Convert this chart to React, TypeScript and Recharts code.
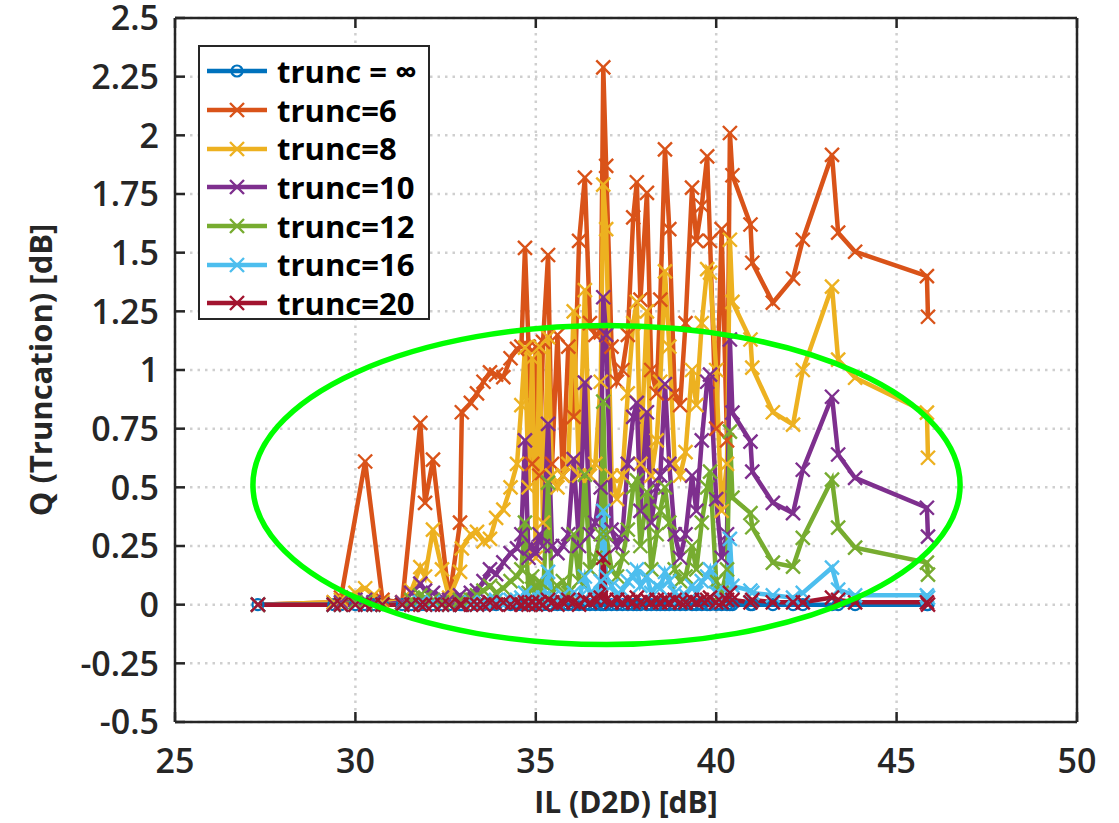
import React from 'react';
import {
  LineChart, Line, XAxis, YAxis, CartesianGrid, ReferenceArea, Legend,
} from 'recharts';

// IL (D2D) [dB] sample positions, shared by all series
const il = [
  27.3, 29.4, 29.6, 30.0, 30.27, 30.5, 30.75, 31.3, 31.55, 31.8,
  31.93, 32.15, 32.4, 32.6, 32.9, 32.95, 33.2, 33.37, 33.55, 33.73,
  33.9, 34.1, 34.3, 34.48, 34.6, 34.7, 34.8, 34.9, 35.0, 35.1,
  35.2, 35.34, 35.45, 35.6, 35.75, 35.9, 36.05, 36.2, 36.36, 36.5,
  36.65, 36.8, 36.87, 36.95, 37.1, 37.25, 37.4, 37.55, 37.7, 37.8,
  37.9, 38.08, 38.2, 38.35, 38.45, 38.58, 38.7, 38.85, 39.0, 39.15,
  39.33, 39.45, 39.6, 39.75, 39.83, 40.0, 40.15, 40.3, 40.38, 40.45,
  40.95, 41.0, 41.57, 42.13, 42.4, 43.21, 43.38, 43.85, 45.84, 45.87,
];

const truncInf = il.map(() => 0);

const trunc6 = [
  0, 0.01, 0.03, null, 0.61, null, 0.02, 0.01, null, 0.775,
  0.434, 0.618, null, 0.02, 0.35, 0.82, 0.86, 0.9, 0.95, 0.99,
  0.98, 0.97, 1.05, 1.09, 1.1, 1.52, 1.1, 0.6, 1.1, 0.55,
  1.12, 1.49, 0.6, 1.15, 0.55, 1.1, 0.8, 1.55, 1.82, 1.2,
  1.15, 1.16, 2.29, 1.87, 1.1, 0.95, 1.0, 1.15, 1.65, 1.8,
  1.3, 1.755, 1.0, 0.9, 1.3, 1.94, 1.6, 0.9, 0.85, 1.2,
  1.777, 1.55, 1.7, 1.91, 1.55, 0.75, 1.6, 0.7, 2.01, 1.83,
  1.62, 1.457, 1.287, 1.39, 1.555, 1.917, 1.585, 1.504, 1.4, 1.227,
];

const trunc8 = [
  0, 0.01, 0.02, 0.05, 0.07, 0.04, 0.01, 0.01, 0.06, 0.16,
  0.12, 0.32, 0.15, 0.03, 0.14, 0.24, 0.3, 0.31, 0.27, 0.28,
  0.37, 0.405, 0.5, 0.6, 0.85, 1.095, 0.5, 1.05, 0.2, 1.1,
  0.35, 1.14, 0.55, 0.5, 0.55, 0.6, 1.25, 0.55, 1.34, 0.55,
  0.6, 0.95, 1.79, 1.6, 0.55, 0.45, 0.55, 0.9, 1.2, 1.29,
  0.6, 1.25, 0.55, 0.7, 0.95, 1.42, 1.1, 0.6, 0.55, 0.65,
  1.0, 0.85, 1.2, 1.43, 1.415, 1.0, 0.4, 0.6, 1.555, 1.29,
  1.13, 1.01, 0.82, 0.767, 1.0, 1.355, 1.044, 0.967, 0.818, 0.626,
];

const trunc10 = [
  0, 0, 0.01, 0.02, 0.02, 0.01, 0, 0.01, 0.05, 0.09,
  0.06, 0.05, 0.03, 0.02, 0.04, 0.02, 0.05, 0.06, 0.1, 0.15,
  0.13, 0.18, 0.22, 0.24, 0.3, 0.7, 0.2, 0.25, 0.22, 0.3,
  0.25, 0.77, 0.25, 0.22, 0.25, 0.3, 0.62, 0.25, 0.946, 0.3,
  0.35, 0.5, 1.31, 1.15, 0.32, 0.25, 0.3, 0.6, 0.8, 0.86,
  0.4, 0.82, 0.35, 0.5, 0.55, 0.94, 0.6, 0.3, 0.2, 0.3,
  0.55, 0.4, 0.7, 0.95, 0.98, 0.45, 0.2, 0.3, 1.13, 0.818,
  0.695, 0.567, 0.434, 0.39, 0.575, 0.886, 0.64, 0.54, 0.413, 0.29,
];

const trunc12 = [
  0, 0, 0, 0.01, 0.01, 0, 0, 0, 0.02, 0.04,
  0.03, 0.02, 0.01, 0, 0.02, 0.01, 0.02, 0.04, 0.06, 0.08,
  0.05, 0.07, 0.1, 0.12, 0.15, 0.35, 0.05, 0.12, 0.04, 0.1,
  0.03, 0.52, 0.05, 0.08, 0.1, 0.05, 0.3, 0.1, 0.554, 0.15,
  0.2, 0.3, 0.865, 0.3, 0.15, 0.12, 0.2, 0.32, 0.5, 0.53,
  0.25, 0.48, 0.15, 0.3, 0.4, 0.5, 0.35, 0.15, 0.1, 0.12,
  0.25, 0.15, 0.35, 0.5, 0.567, 0.1, 0.05, 0.15, 0.737, 0.456,
  0.39, 0.33, 0.179, 0.162, 0.285, 0.533, 0.328, 0.243, 0.179, 0.128,
];

const trunc16 = [
  0, 0, 0, 0, 0, 0, 0, 0, 0, 0.01,
  0, 0.01, 0, 0, 0, 0, 0.01, 0, 0.01, 0.01,
  0.02, 0.01, 0.02, 0.02, 0.03, 0.05, 0.02, 0.03, 0.01, 0.02,
  0.03, 0.14, 0.03, 0.02, 0.04, 0.02, 0.05, 0.03, 0.12, 0.05,
  0.04, 0.1, 0.4, 0.12, 0.08, 0.04, 0.06, 0.1, 0.12, 0.15,
  0.08, 0.12, 0.05, 0.08, 0.07, 0.14, 0.1, 0.05, 0.03, 0.04,
  0.08, 0.05, 0.1, 0.12, 0.15, 0.05, 0.02, 0.05, 0.28, 0.08,
  0.06, 0.05, 0.04, 0.03, 0.05, 0.158, 0.064, 0.04, 0.04, 0.03,
];

const trunc20 = [
  0, 0, 0, 0, 0, 0, 0, 0, 0, 0,
  0, 0, 0, 0, 0, 0, 0, 0, 0, 0.01,
  0, 0.01, 0, 0.01, 0, 0.01, 0, 0.01, 0, 0.01,
  0, 0.02, 0.01, 0, 0.01, 0.02, 0.01, 0, 0.02, 0.01,
  0.02, 0.03, 0.2, 0.02, 0.01, 0.02, 0.01, 0.02, 0.01, 0.03,
  0.01, 0.02, 0.01, 0.02, 0.01, 0.02, 0.01, 0.02, 0.01, 0.01,
  0.02, 0.01, 0.02, 0.02, 0.03, 0.01, 0.01, 0.02, 0.05, 0.02,
  0.01, 0.02, 0.01, 0.01, 0.01, 0.03, 0.02, 0.01, 0.01, 0,
];

const xTicks = [25, 30, 35, 40, 45, 50];
const yTicks = [-0.5, -0.25, 0, 0.25, 0.5, 0.75, 1, 1.25, 1.5, 1.75, 2, 2.25, 2.5];

// highlighted region (data units)
const ellipseX = [27.16, 46.76];
const ellipseY = [-0.17, 1.19];

const series = [
  { key: 'tInf', name: 'trunc = \u221e', color: '#0072BD', marker: 'o', values: truncInf },
  { key: 't6', name: 'trunc=6', color: '#D95319', marker: 'x', values: trunc6 },
  { key: 't8', name: 'trunc=8', color: '#EDB120', marker: 'x', values: trunc8 },
  { key: 't10', name: 'trunc=10', color: '#7E2F8E', marker: 'x', values: trunc10 },
  { key: 't12', name: 'trunc=12', color: '#77AC30', marker: 'x', values: trunc12 },
  { key: 't16', name: 'trunc=16', color: '#4DBEEE', marker: 'x', values: trunc16 },
  { key: 't20', name: 'trunc=20', color: '#A2142F', marker: 'x', values: trunc20 },
];

const data = il.map((x, i) => {
  const row: Record<string, number | null> = { il: x };
  series.forEach((s) => { row[s.key] = s.values[i]; });
  return row;
});

const AXIS = '#262626';
const FONT = '"Open Sans", "DejaVu Sans", sans-serif';

function Marker({ cx, cy, color, kind }: any) {
  if (cx == null || cy == null || Number.isNaN(cy)) return <g />;
  if (kind === 'o') {
    return <circle cx={cx} cy={cy} r={5.5} fill="none" stroke={color} strokeWidth={2.2} />;
  }
  const s = 7;
  return (
    <path
      d={`M${cx - s},${cy - s}L${cx + s},${cy + s}M${cx - s},${cy + s}L${cx + s},${cy - s}`}
      stroke={color}
      strokeWidth={2.4}
      fill="none"
    />
  );
}

const tickText = { fill: AXIS, fontSize: 34, fontWeight: 600, fontFamily: FONT };

function LeftTick({ x, y, payload }: any) {
  return (
    <g>
      <line x1={x} x2={x + 10} y1={y} y2={y} stroke={AXIS} strokeWidth={2.5} />
      <text x={x - 16} y={y} dy="0.36em" textAnchor="end" {...tickText}>{String(payload.value)}</text>
    </g>
  );
}

function RightTick({ x, y }: any) {
  return <line x1={x} x2={x - 10} y1={y} y2={y} stroke={AXIS} strokeWidth={2.5} />;
}

function BottomTick({ x, y, payload }: any) {
  return (
    <g>
      <line x1={x} x2={x} y1={y} y2={y - 10} stroke={AXIS} strokeWidth={2.5} />
      <text x={x} y={y + 51} textAnchor="middle" {...tickText}>{String(payload.value)}</text>
    </g>
  );
}

function TopTick({ x, y }: any) {
  return <line x1={x} x2={x} y1={y} y2={y + 10} stroke={AXIS} strokeWidth={2.5} />;
}

function LegendBox() {
  return (
    <div style={{
      width: 232, height: 275, boxSizing: 'border-box', border: `2.5px solid ${AXIS}`,
      background: '#fff', paddingTop: 5,
    }}>
      {series.map((s) => (
        <div key={s.key} style={{ display: 'flex', alignItems: 'center', height: 38.7 }}>
          <svg width={72} height={20} style={{ marginLeft: 5, flex: 'none' }}>
            <line x1={2} x2={62} y1={10} y2={10} stroke={s.color} strokeWidth={4.5} />
            <Marker cx={32} cy={10} color={s.color} kind={s.marker} />
          </svg>
          <span style={{
            fontFamily: FONT, fontWeight: 700, fontSize: 31, color: '#000', lineHeight: 1, whiteSpace: 'nowrap',
          }}>
            {s.name}
          </span>
        </div>
      ))}
    </div>
  );
}

export default function App() {
  return (
    <div style={{ position: 'absolute', left: 0, top: 0, width: 1119, height: 823, background: '#fff' }}>
      <LineChart width={1119} height={823} data={data} margin={{ top: 0, right: 0, bottom: 0, left: 0 }}>
        <CartesianGrid stroke="#cfcfcf" strokeWidth={2.5} strokeDasharray="2.5 5" />
        <XAxis
          dataKey="il" type="number" domain={[25, 50]} ticks={xTicks} interval={0}
          height={101} tickSize={0} tickMargin={0} tickLine={false} tick={<BottomTick />}
          axisLine={{ stroke: AXIS, strokeWidth: 2.5 }}
          label={{
            content: (p: any) => {
              const vb = p.viewBox;
              return (
                <text x={vb.x + vb.width / 2} y={vb.y + vb.height - 10} textAnchor="middle"
                  fill={AXIS} fontSize={30} fontWeight={700} fontFamily={FONT}>
                  IL (D2D) [dB]
                </text>
              );
            },
          }}
        />
        <XAxis
          xAxisId="top" orientation="top" dataKey="il" type="number" domain={[25, 50]} ticks={xTicks}
          interval={0} height={18} tickSize={0} tickMargin={0} tickLine={false} tick={<TopTick />}
          axisLine={{ stroke: AXIS, strokeWidth: 2.5 }}
        />
        <YAxis
          type="number" domain={[-0.5, 2.5]} ticks={yTicks} interval={0} width={175}
          tickSize={0} tickMargin={0} tickLine={false} tick={<LeftTick />}
          axisLine={{ stroke: AXIS, strokeWidth: 2.5 }}
          label={{
            content: (p: any) => {
              const vb = p.viewBox;
              const cx = vb.x + 40;
              const cy = vb.y + vb.height / 2;
              return (
                <text x={cx} y={cy} transform={`rotate(-90 ${cx} ${cy})`} textAnchor="middle"
                  dominantBaseline="central" fill={AXIS} fontSize={31} fontWeight={700} fontFamily={FONT}>
                  Q (Truncation) [dB]
                </text>
              );
            },
          }}
        />
        <YAxis
          yAxisId="right" orientation="right" type="number" domain={[-0.5, 2.5]} ticks={yTicks}
          interval={0} width={42} tickSize={0} tickMargin={0} tickLine={false} tick={<RightTick />}
          axisLine={{ stroke: AXIS, strokeWidth: 2.5 }}
        />
        {series.map((s) => (
          <Line
            key={s.key}
            dataKey={s.key}
            name={s.name}
            type="linear"
            stroke={s.color}
            strokeWidth={4.5}
            connectNulls
            isAnimationActive={false}
            activeDot={false}
            dot={(p: any) => (
              <Marker key={`${s.key}-${p.index}`} cx={p.cx}
                cy={p.payload?.[s.key] == null ? null : p.cy} color={s.color} kind={s.marker} />
            )}
          />
        ))}
        <ReferenceArea
          x1={ellipseX[0]} x2={ellipseX[1]} y1={ellipseY[0]} y2={ellipseY[1]}
          ifOverflow="visible"
          zIndex={2000}
          shape={(p: any) => (
            <ellipse cx={p.x + p.width / 2} cy={p.y + p.height / 2} rx={p.width / 2} ry={p.height / 2}
              fill="none" stroke="#00ff00" strokeWidth={5.5} />
          )}
        />
        <Legend
          layout="vertical" align="center" verticalAlign="middle"
          wrapperStyle={{ left: 198, top: 45, width: 232, height: 275 }}
          content={<LegendBox />}
        />
      </LineChart>
    </div>
  );
}
